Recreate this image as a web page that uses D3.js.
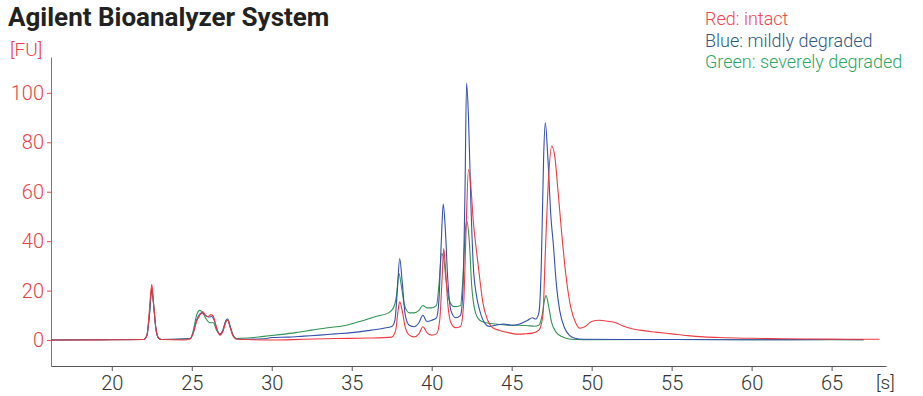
<!DOCTYPE html>
<html>
<head>
<meta charset="utf-8">
<script src="https://cdn.jsdelivr.net/npm/d3@7"></script>
<style>
  body { margin: 0; background: #fff; }
  svg { font-family: Roboto, "Noto Sans", sans-serif; }
</style>
</head>
<body>
<svg id="chart" width="923" height="396"></svg>
<script>
// electropherogram traces, [time s, fluorescence FU]
const redTrace = [
  [16.2,0],[18,0],[20,0.1],[22.0,0.2],[22.2,2],[22.35,12],[22.5,22.5],[22.62,14],[22.75,5],[22.9,1],[23.1,0.2],
  [24.5,0],[24.9,0.5],[25.1,3],[25.3,7.5],[25.5,10],[25.7,11.4],[25.85,10],[26.0,9.5],[26.2,10.3],[26.35,9.5],
  [26.55,5],[26.75,2],[26.95,3.5],[27.15,7.5],[27.25,8],[27.4,5],[27.6,1.5],[27.8,0.4],[28.5,0.2],[30,0],
  [32,0.3],[34,0.6],[36,0.8],[37.5,1.2],[37.75,4],[37.9,12],[38.0,15.5],[38.15,12],[38.35,5],[38.6,2],
  [38.9,1.3],[39.2,2.5],[39.45,5.4],[39.7,3],[40.0,2],[40.3,2.5],[40.5,8],[40.65,25],[40.75,37],[40.85,30],
  [41.0,15],[41.2,7],[41.5,5],[41.8,5.5],[42.0,15],[42.15,45],[42.3,69],[42.45,62],[42.6,48],[42.8,36],
  [43.0,25],[43.2,15],[43.5,8],[43.8,5],[44.2,4],[44.8,3],[45.3,2.4],[45.8,2.5],[46.3,2.8],[46.7,4],
  [46.95,10],[47.1,35],[47.3,65],[47.5,78.5],[47.7,74],[47.9,60],[48.1,45],[48.4,25.6],[48.7,13],[49.0,7],
  [49.25,4.8],[49.6,5.5],[50.0,7.5],[50.5,8],[51.0,7.6],[51.5,7],[52.0,5.6],[52.5,4.6],[53,4],[54,3.2],
  [55,2.5],[56,1.8],[57,1.3],[58,1],[60,0.7],[62,0.5],[64,0.4],[66,0.3],[68,0.3]
];
const blueTrace = [
  [16.2,0],[22.0,0.2],[22.2,2],[22.35,10],[22.5,21],[22.62,14],[22.75,5],[22.9,1],[23.1,0.2],[24.9,0.5],
  [25.1,3],[25.3,8],[25.5,10.5],[25.65,11],[25.85,10],[26.05,9.3],[26.25,9.5],[26.4,8],[26.6,4],[26.75,2.2],
  [26.95,4],[27.15,8],[27.25,8.5],[27.4,5.5],[27.6,1.5],[27.8,0.4],[28.5,0.3],[29.5,0.5],[30,1],[31,1.2],
  [32,1.6],[33,2],[34,2.5],[35,3],[36,3.8],[37,4.8],[37.5,5.5],[37.7,8],[37.85,20],[38.0,33],[38.15,24],
  [38.35,10],[38.6,6],[38.9,5.4],[39.2,7],[39.45,10],[39.7,7.5],[40.0,8],[40.3,9],[40.45,16],[40.6,40],
  [40.72,55],[40.85,45],[41.0,25],[41.2,12],[41.5,9],[41.8,10],[41.95,20],[42.08,60],[42.18,104],[42.3,90],
  [42.45,55],[42.6,30],[42.8,18],[43.0,12],[43.3,7],[43.6,5.5],[44.0,6],[44.5,6.5],[45,6],[45.5,6.5],
  [46.0,8],[46.3,9],[46.5,8.5],[46.7,11],[46.85,30],[47.0,75],[47.1,88],[47.25,75],[47.45,50],[47.6,39],
  [47.8,22],[48.0,12],[48.3,5],[48.6,2],[48.9,0.8],[49.5,0.3],[52,0.2],[55,0.2],[60,0.1],[65,0.2],[67,0.1]
];
const greenTrace = [
  [16.2,0],[22.0,0.2],[22.2,2],[22.35,10],[22.5,20],[22.62,14],[22.75,5],[22.9,1],[23.1,0.2],[24.9,0.6],
  [25.1,4],[25.3,10],[25.5,12],[25.7,11],[25.9,8.5],[26.15,7],[26.35,7],[26.55,4],[26.75,2.5],[26.95,4],
  [27.15,8],[27.25,8],[27.4,5.5],[27.6,1.8],[27.8,0.6],[28.5,0.8],[29.5,1.5],[30.5,2.2],[31.5,3],[32.5,4],
  [33.5,5],[34.5,5.8],[35.5,7.5],[36.5,9.5],[37.3,11],[37.6,13],[37.8,18],[37.95,27],[38.1,22],[38.3,14],
  [38.6,11],[38.9,11],[39.2,12],[39.45,14],[39.7,13],[40.0,13],[40.3,14],[40.45,22],[40.62,35],[40.75,33],
  [40.9,24],[41.1,16],[41.4,13.5],[41.8,14],[41.95,25],[42.1,44],[42.2,48],[42.35,40],[42.5,22],[42.7,12],
  [43.0,8],[43.4,7],[44.0,6.5],[44.5,6.2],[45,6],[45.5,6],[46.0,5.8],[46.4,5.6],[46.7,6],[46.9,10],
  [47.05,16],[47.15,18],[47.3,14],[47.5,7],[47.8,3],[48.2,1.2],[48.7,0.3],[49.5,0.1],[55,0.2],[60,0.1],[67,0.1]
];
const legendLabels = ['Red: intact', 'Blue: mildly degraded', 'Green: severely degraded'];
const xTicks = [20, 25, 30, 35, 40, 45, 50, 55, 60, 65];
const yTicks = [0, 20, 40, 60, 80, 100];

const svg = d3.select('#chart');
const x = d3.scaleLinear().domain([16.2, 68.4]).range([51, 886]);
const y = d3.scaleLinear().domain([-10.5, 114.5]).range([366, 57]);

const line = d3.line()
  .x(d => x(d[0]))
  .y(d => y(d[1]))
  .curve(d3.curveMonotoneX);

// title
svg.append('text')
  .attr('x', 8).attr('y', 26)
  .attr('font-size', 26).attr('font-weight', 700)
  .attr('fill', '#222')
  .text('Agilent Bioanalyzer System');

// legend
const legendColors = ['#f0464c', '#2c5a85', '#2aa860'];
legendLabels.forEach((t, i) => {
  svg.append('text')
    .attr('x', 705).attr('y', 25 + i * 21.7)
    .attr('font-size', 18).attr('font-weight', 300)
    .attr('fill', legendColors[i])
    .text(t);
});

// y axis
const yAxis = svg.append('g')
  .attr('transform', `translate(${x.range()[0]},0)`)
  .call(d3.axisLeft(y).tickValues(yTicks).tickSize(4).tickSizeOuter(0).tickPadding(3));
yAxis.select('.domain').attr('stroke', '#e8494f');
yAxis.selectAll('.tick line').attr('stroke', '#e8494f');
yAxis.selectAll('.tick text')
  .attr('fill', '#ee3f46').attr('font-size', 20).attr('font-weight', 300)
  .attr('font-family', 'Roboto, sans-serif');

// x axis
const xAxis = svg.append('g')
  .attr('transform', `translate(0,${y.range()[0]})`)
  .call(d3.axisBottom(x).tickValues(xTicks).tickSize(5).tickSizeOuter(0).tickPadding(5));
xAxis.select('.domain').attr('stroke', '#555');
xAxis.selectAll('.tick line').attr('stroke', '#555');
xAxis.selectAll('.tick text')
  .attr('fill', '#333').attr('font-size', 20).attr('font-weight', 300)
  .attr('font-family', 'Roboto, sans-serif');

// unit labels
svg.append('text')
  .attr('x', 10).attr('y', 56)
  .attr('font-size', 19).attr('font-weight', 300)
  .attr('fill', '#ee3f46')
  .text('[FU]');
svg.append('text')
  .attr('x', 876).attr('y', 389)
  .attr('font-size', 19).attr('font-weight', 300)
  .attr('fill', '#333')
  .text('[s]');

// traces
const traces = [
  { data: greenTrace, color: '#2f9552' },
  { data: blueTrace, color: '#3550b0' },
  { data: redTrace, color: '#f03a42' }
];
svg.append('g')
  .selectAll('path')
  .data(traces)
  .join('path')
  .attr('d', d => line(d.data))
  .attr('fill', 'none')
  .attr('stroke', d => d.color)
  .attr('stroke-width', 1.1)
  .attr('stroke-linejoin', 'round');
</script>
</body>
</html>
